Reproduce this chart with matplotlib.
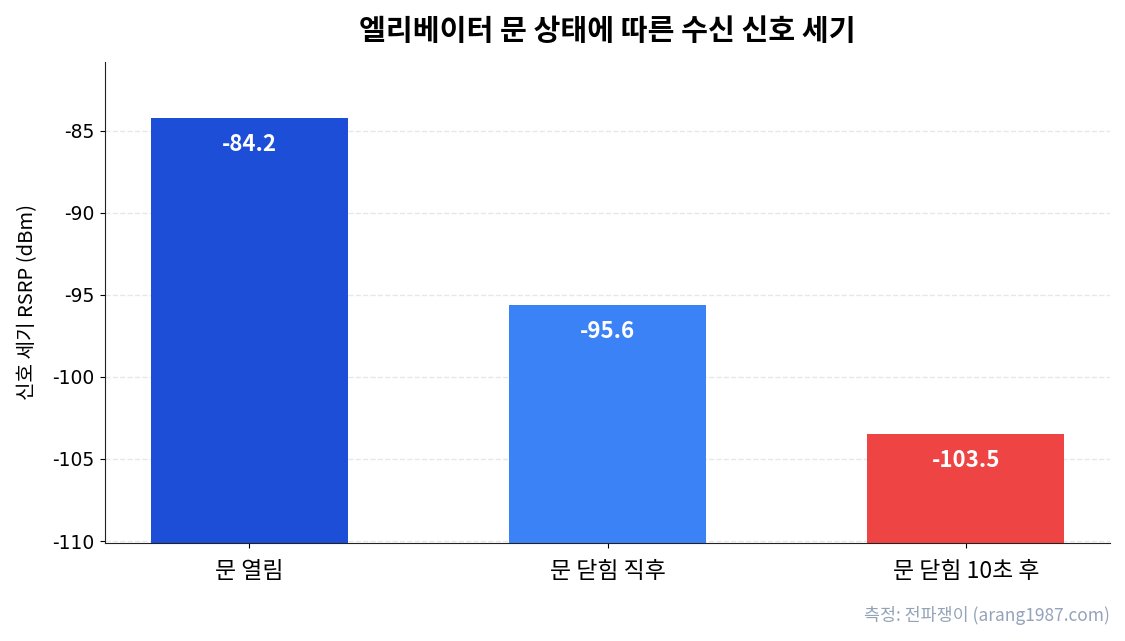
import matplotlib
matplotlib.use('Agg')
import matplotlib.pyplot as plt

plt.rcParams['font.family'] = ['Noto Sans CJK KR', 'DejaVu Sans']
plt.rcParams['axes.unicode_minus'] = False

# data
states = ['문 열림', '문 닫힘 직후', '문 닫힘 10초 후']
rsrp = [-84.2, -95.6, -103.5]
colors = ['#1d4ed8', '#3b82f6', '#ef4444']
base = -115

fig = plt.figure(figsize=(11.25, 6.41), dpi=100)
ax = fig.add_axes([0.0933, 0.1529, 0.8934, 0.7504])

x = range(len(states))
heights = [v - base for v in rsrp]
ax.bar(x, heights, bottom=base, width=0.55, color=colors, zorder=2)

for i, v in enumerate(rsrp):
    ax.text(i, v - 1.62, f'{v:.1f}', ha='center', va='center',
            color='white', fontsize=16, fontweight='bold', zorder=3)

ax.set_ylim(-110.12, -80.8)
ax.set_yticks([-85, -90, -95, -100, -105, -110])
ax.set_yticklabels(['-85', '-90', '-95', '-100', '-105', '-110'],
                   family=['DejaVu Sans'], fontsize=13.5)
ax.tick_params(axis='y', pad=4)
ax.set_xticks(list(x))
ax.set_xticklabels(states, fontsize=16.5)
ax.tick_params(axis='x', pad=9)
ax.set_ylabel('신호 세기 RSRP (dBm)', fontsize=14.5, labelpad=10)
ax.set_title('엘리베이터 문 상태에 따른 수신 신호 세기', fontsize=21,
             fontweight='bold', pad=16)

ax.grid(axis='y', linestyle='--', color='#e5e7eb', linewidth=1, zorder=0)
ax.spines['top'].set_visible(False)
ax.spines['right'].set_visible(False)
ax.spines['left'].set_color('#222222')
ax.spines['bottom'].set_color('#222222')

fig.text(0.9867, 0.025, '측정: 전파쟁이 (arang1987.com)', ha='right', va='bottom',
         fontsize=12.5, color='#94a3b8')

fig.savefig('out.png', dpi=100)
